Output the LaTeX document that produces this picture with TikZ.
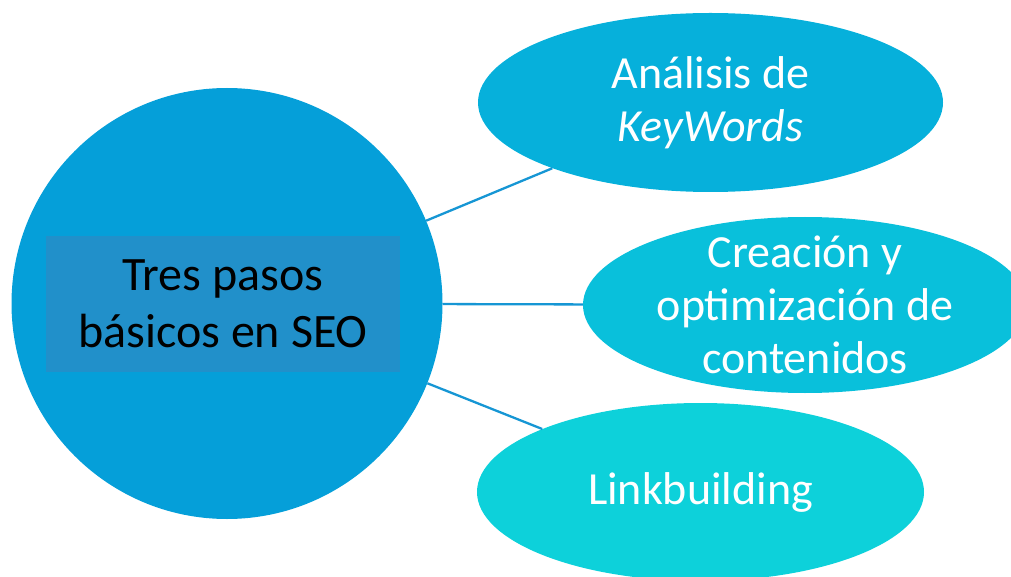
\documentclass[tikz,border=0pt]{standalone}
\usepackage{fontspec}
\setmainfont{Carlito}
\usepackage{tikz}
\usetikzlibrary{shapes.geometric}
\definecolor{circazul}{RGB}{5,159,217}
\definecolor{cajazul}{RGB}{33,144,202}
\definecolor{elipuno}{RGB}{6,176,219}
\definecolor{elipdos}{RGB}{9,192,219}
\definecolor{eliptres}{RGB}{13,209,218}
\definecolor{lineazul}{RGB}{22,150,212}
\tikzstyle{paso}=[ellipse, draw=none, text=white, align=center, inner xsep=0pt, inner ysep=-40pt, font=\fontsize{46}{53}\selectfont]
\tikzstyle{enlace}=[draw=lineazul, line width=2.3pt]
\newcommand{\paso}{\node[paso]}

\begin{document}
\begin{tikzpicture}[x=1pt,y=-1pt]
	\useasboundingbox (0,0) rectangle (1011,577);
	\node[circle, fill=circazul, minimum size=431pt, inner sep=0pt](centro) at (227,303.5) {};
	\node[fill=cajazul, minimum width=354pt, minimum height=136pt, align=center, inner sep=0pt, font=\fontsize{48}{57}\selectfont](titulo) at (223,304) {Tres pasos\\básicos en SEO};
	\paso[fill=elipuno, minimum width=465pt, minimum height=179pt](kw) at (710.5,102.5) {Análisis de\\\textit{KeyWords}};
	\paso[fill=elipdos, minimum width=444pt, minimum height=176pt](cont) at (805,305) {Creación y\\optimización de\\contenidos};
	\paso[fill=eliptres, minimum width=447pt, minimum height=178pt](link) at (700.5,492) {Linkbuilding};
	\draw[enlace] (centro) -- (kw);
	\draw[enlace] (centro) -- (cont);
	\draw[enlace] (centro) -- (link);
\end{tikzpicture}
\end{document}
